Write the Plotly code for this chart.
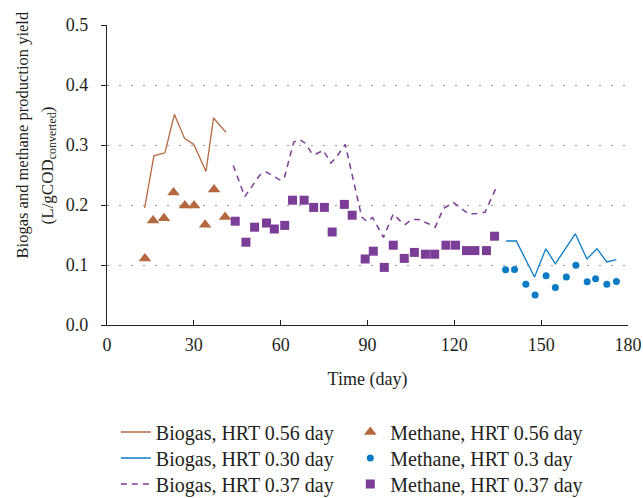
import plotly.graph_objects as go

# ---------------- data ----------------
b056_day = [13.0, 16.2, 20.0, 23.3, 26.8, 30.0, 34.2, 36.8, 41.1]
b056_val = [0.195, 0.282, 0.287, 0.351, 0.311, 0.301, 0.256, 0.345, 0.321]

m056_day = [13.1, 15.9, 19.7, 23.0, 26.9, 30.1, 33.9, 37.0, 40.8]
m056_val = [0.111, 0.174, 0.178, 0.221, 0.199, 0.199, 0.167, 0.226, 0.180]

b030_day = [137.9, 141.4, 147.7, 151.6, 154.9, 161.8, 165.8, 169.3, 172.7, 176.0]
b030_val = [0.140, 0.140, 0.080, 0.127, 0.102, 0.152, 0.110, 0.127, 0.105, 0.109]

m030_day = [137.7, 140.8, 144.7, 147.9, 151.7, 154.9, 158.7, 162.0, 165.9, 168.8, 172.7, 176.0]
m030_val = [0.092, 0.0925, 0.068, 0.050, 0.082, 0.0625, 0.080, 0.0997, 0.072, 0.077, 0.068, 0.0725]

b037_day = [43.6, 47.6, 52.8, 55.1, 59.6, 61.2, 64.5, 66.5, 68.5, 70.9, 72.2, 74.7, 77.4,
            79.3, 82.3, 88.0, 89.7, 91.8, 95.5, 98.9, 101.2, 103.0, 105.3, 107.6, 111.6,
            113.4, 116.2, 119.7, 122.0, 124.9, 127.8, 130.6, 134.3]
b037_val = [0.266, 0.214, 0.250, 0.255, 0.242, 0.244, 0.305, 0.309, 0.303, 0.285, 0.285, 0.291, 0.270,
            0.280, 0.301, 0.180, 0.173, 0.179, 0.146, 0.185, 0.174, 0.1675, 0.176, 0.176, 0.1675,
            0.163, 0.194, 0.204, 0.196, 0.185, 0.186, 0.188, 0.227]

m037_day = [44.3, 48.0, 51.0, 55.1, 57.8, 61.4, 64.1, 68.1, 71.4, 75.1, 77.8, 82.0, 84.7,
            89.2, 92.0, 95.8, 98.9, 102.7, 106.2, 110.0, 113.2, 117.1, 120.4, 124.2, 127.1,
            131.1, 133.9]
m037_val = [0.173, 0.138, 0.163, 0.170, 0.160, 0.166, 0.208, 0.208, 0.196, 0.196, 0.155, 0.201, 0.183,
            0.110, 0.123, 0.096, 0.133, 0.111, 0.121, 0.118, 0.118, 0.133, 0.133, 0.124, 0.124,
            0.124, 0.148]

x_ticks = [0, 30, 60, 90, 120, 150, 180]
y_ticks = [0.0, 0.1, 0.2, 0.3, 0.4, 0.5]
y_tick_labels = ["0.0", "0.1", "0.2", "0.3", "0.4", "0.5"]

BROWN = "#B5683F"
BLUE = "#0A7BC4"
PURPLE = "#7B3D97"
INK = "#231F20"
FONT = "Liberation Serif"

fig = go.Figure()

fig.add_trace(go.Scatter(x=b056_day, y=b056_val, mode="lines", name="Biogas, HRT 0.56 day",
                         line=dict(color=BROWN, width=1.3), legend="legend"))
fig.add_trace(go.Scatter(x=b030_day, y=b030_val, mode="lines", name="Biogas, HRT 0.30 day",
                         line=dict(color=BLUE, width=1.3), legend="legend2"))
fig.add_trace(go.Scatter(x=b037_day, y=b037_val, mode="lines", name="Biogas, HRT 0.37 day",
                         line=dict(color=PURPLE, width=1.5, dash="6px,5px"), legend="legend3"))

fig.add_trace(go.Scatter(x=m056_day, y=m056_val, mode="markers", name="Methane, HRT 0.56 day",
                         marker=dict(symbol="triangle-up", color=BROWN, size=11), legend="legend4"))
fig.add_trace(go.Scatter(x=m030_day, y=m030_val, mode="markers", name="Methane, HRT 0.3 day",
                         marker=dict(symbol="circle", color=BLUE, size=7), legend="legend5"))
fig.add_trace(go.Scatter(x=m037_day, y=m037_val, mode="markers", name="Methane, HRT 0.37 day",
                         marker=dict(symbol="square", color=PURPLE, size=9), legend="legend6"))

leg_common = dict(font=dict(family=FONT, size=20, color=INK), bgcolor="rgba(0,0,0,0)",
                  orientation="v", xanchor="left", yanchor="top")
col1_x, col2_x = 0.017, 0.467
row_y = [-0.2917, -0.3783, -0.465]

fig.update_layout(
    width=643, height=498,
    margin=dict(l=107, r=15, t=25, b=173, autoexpand=False),
    paper_bgcolor="white", plot_bgcolor="white",
    font=dict(family=FONT, size=18, color=INK),
    xaxis=dict(range=[0, 180], tickvals=x_ticks, ticks="inside", ticklen=5, tickwidth=1.2,
               tickcolor=INK, showline=True, linecolor=INK, linewidth=1.2, showgrid=False,
               zeroline=False, ticklabelstandoff=3,
               title=dict(text="Time (day)", font=dict(family=FONT, size=18, color=INK), standoff=18)),
    yaxis=dict(range=[0, 0.5], tickvals=y_ticks, ticktext=y_tick_labels, ticks="outside",
               ticklen=5, tickwidth=1.2, tickcolor=INK, showline=True, linecolor=INK,
               linewidth=1.2, showgrid=True, gridcolor="#9A9A9A", gridwidth=1,
               griddash="2px,10px", zeroline=False, ticklabelstandoff=9),
    showlegend=True,
    legend=dict(x=col1_x, y=row_y[0], **leg_common),
    legend2=dict(x=col1_x, y=row_y[1], **leg_common),
    legend3=dict(x=col1_x, y=row_y[2], **leg_common),
    legend4=dict(x=col2_x, y=row_y[0], **leg_common),
    legend5=dict(x=col2_x, y=row_y[1], **leg_common),
    legend6=dict(x=col2_x, y=row_y[2], **leg_common),
    annotations=[
        dict(text="Biogas and methane production yield", xref="paper", yref="paper",
             x=0, y=0.632, xshift=-85, textangle=-90, showarrow=False,
             xanchor="center", yanchor="middle", font=dict(family=FONT, size=16.5, color=INK)),
        dict(text="(L/gCOD<sub>converted</sub>)", xref="paper", yref="paper",
             x=0, y=0.532, xshift=-58, textangle=-90, showarrow=False,
             xanchor="center", yanchor="middle", font=dict(family=FONT, size=17, color=INK)),
    ],
)

fig.write_html("out.html")
